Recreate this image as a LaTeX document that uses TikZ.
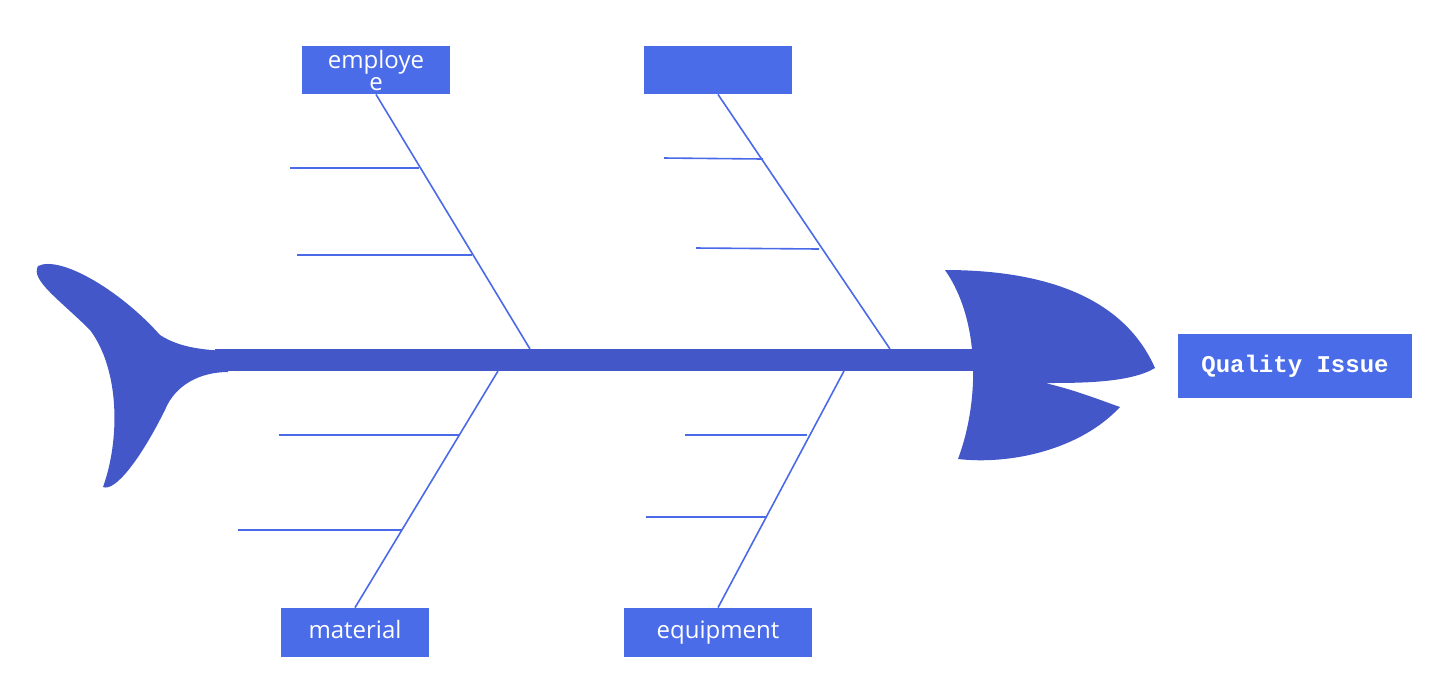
\documentclass[tikz,border=0pt]{standalone}
\usepackage{fontspec}
\setmainfont{Open Sans}
\setmonofont{Liberation Mono}
\definecolor{fish}{HTML}{4357C9}
\definecolor{bone}{HTML}{4A6AE8}
\definecolor{boxc}{HTML}{4A6CE8}
\begin{document}
\begin{tikzpicture}[x=0.5pt,y=-0.5pt,
  bx/.style={draw=none,fill=boxc,text=white,inner sep=0pt,align=center,font=\fontsize{12}{11}\selectfont},
  bl/.style={draw=bone,line width=0.8pt}]
\useasboundingbox (0,0) rectangle (1448,693);
% tail
\fill[fish] (38,266) .. controls (60,255) and (120,290) .. (160,335)
  .. controls (180,348) and (205,350) .. (228,351) -- (228,372)
  .. controls (200,372) and (175,385) .. (165,410)
  .. controls (140,460) and (115,492) .. (103,487)
  .. controls (120,440) and (120,370) .. (90,330)
  .. controls (60,300) and (30,280) .. (38,266) -- cycle;
% spine
\fill[fish] (215,349) rectangle (975,371);
% head
\fill[fish] (945,270) .. controls (1050,270) and (1125,300) .. (1155,368)
  .. controls (1130,383) and (1080,383) .. (1045,383)
  .. controls (1075,390) and (1100,400) .. (1120,407)
  .. controls (1080,450) and (1010,465) .. (958,459)
  .. controls (980,400) and (980,320) .. (945,270) -- cycle;
% boxes
\node[bx,minimum width=74pt,minimum height=24pt] (emp) at (376,70) {employe\\e};
\node[bx,minimum width=74pt,minimum height=24pt] (blank) at (718,70) {};
\node[bx,minimum width=74pt,minimum height=24.5pt] (mat) at (355,632.5) {\strut material};
\node[bx,minimum width=94pt,minimum height=24.5pt] (eq) at (718,632.5) {\strut equipment};
\node[bx,minimum width=117pt,minimum height=32pt,font=\ttfamily\bfseries\fontsize{12}{14}\selectfont] (q) at (1295,366) {Quality Issue};
% bones
\coordinate (s1) at (530,349); \coordinate (s2) at (890,349);
\coordinate (s3) at (498,371); \coordinate (s4) at (844,371);
\draw[bl] (emp.south) -- (s1);
\draw[bl] (blank.south) -- (s2);
\draw[bl] (mat.north) -- (s3);
\draw[bl] (eq.north) -- (s4);
% ribs
\coordinate (r1a) at (290,168); \coordinate (r1b) at (419,168);
\coordinate (r2a) at (297,255); \coordinate (r2b) at (472,255);
\coordinate (r3a) at (664,158); \coordinate (r3b) at (763,159);
\coordinate (r4a) at (696,248); \coordinate (r4b) at (819,249);
\coordinate (r5a) at (279,435); \coordinate (r5b) at (459,435);
\coordinate (r6a) at (238,530); \coordinate (r6b) at (402,530);
\coordinate (r7a) at (685,435); \coordinate (r7b) at (807,435);
\coordinate (r8a) at (646,517); \coordinate (r8b) at (766,517);
\foreach \i in {1,...,8} \draw[bl] (r\i a) -- (r\i b);
\end{tikzpicture}
\end{document}
